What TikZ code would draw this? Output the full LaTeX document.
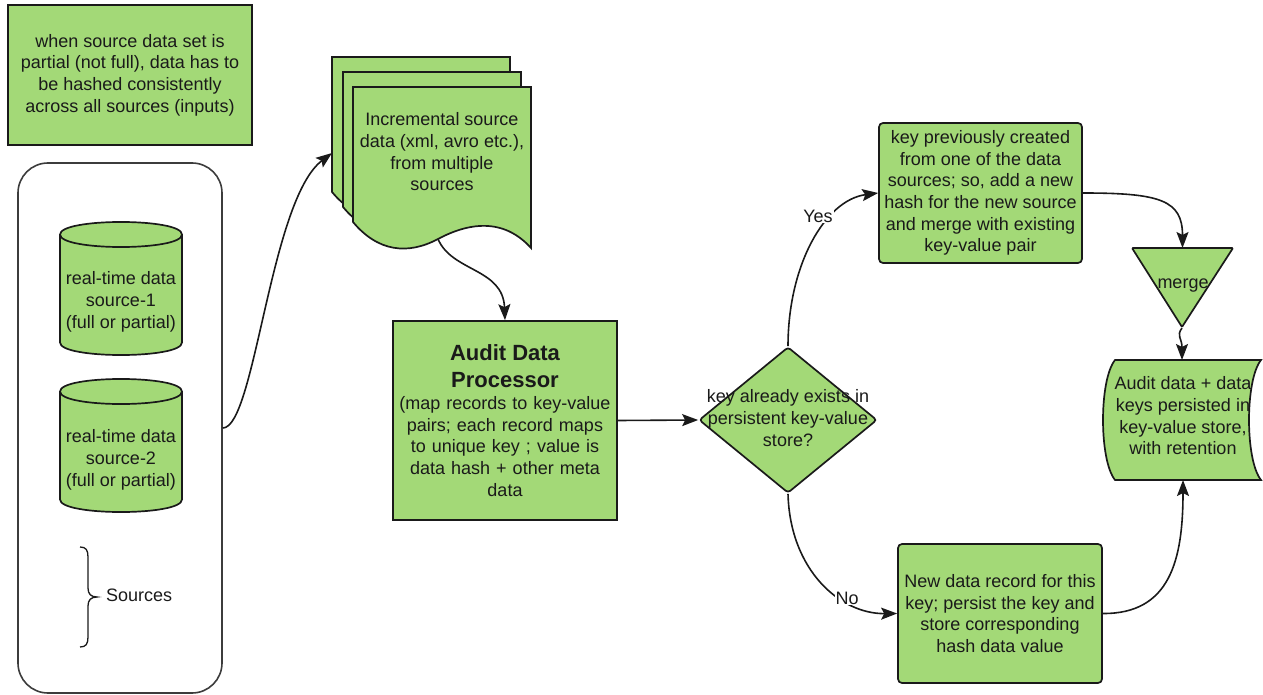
\documentclass[tikz,border=0pt]{standalone}
\usepackage{fontspec}
\setmainfont{Liberation Sans}
\usetikzlibrary{shapes.geometric,arrows.meta}
\definecolor{lgreen}{HTML}{A3D977}
\definecolor{ink}{HTML}{1A1A1A}
\begin{document}
\begin{tikzpicture}[x=1pt,y=-1pt, font=\fontsize{18}{21.7}\selectfont,
  shp/.style={draw=ink, line width=1.7pt, fill=lgreen},
  box/.style={shp, text=ink, align=center, inner sep=0pt},
  txt/.style={text=ink, align=center, inner sep=0pt},
  conn/.style={draw=ink, line width=1.6pt, -{Stealth[length=16pt,width=12pt,inset=3pt]}},
  lbl/.style={fill=white, inner sep=1pt, text=ink}]

\useasboundingbox (0,0) rectangle (1263,695);

% note
\node[box, minimum width=244pt, minimum height=140pt] (note) at (130,75)
  {when source data set is\\partial (not full), data has to\\be hashed consistently\\across all sources (inputs)};

% container
\node[draw=ink!85, line width=1.6pt, rounded corners=30pt, minimum width=204pt, minimum height=530pt] (cont) at (120,428) {};

% cylinder 1
\path[shp] (60,234.5) -- (60,342.5) .. controls (60,359.2) and (182,359.2) .. (182,342.5)
  -- (182,234.5) .. controls (182,217.8) and (60,217.8) .. (60,234.5) -- cycle;
\draw[shp] (60,234.5) .. controls (60,251.2) and (182,251.2) .. (182,234.5);
\node[txt] (src1) at (121,302) {real-time data\\source-1\\(full or partial)};

% cylinder 2
\path[shp] (60,391.5) -- (60,499.5) .. controls (60,516.2) and (182,516.2) .. (182,499.5)
  -- (182,391.5) .. controls (182,374.8) and (60,374.8) .. (60,391.5) -- cycle;
\draw[shp] (60,391.5) .. controls (60,408.2) and (182,408.2) .. (182,391.5);
\node[txt] (src2) at (121,460) {real-time data\\source-2\\(full or partial)};

% brace
\draw[ink, line width=1.3pt] (80,547) .. controls (86,547) and (88,550) .. (88,557) -- (88,588)
  .. controls (88,594) and (91,597) .. (97,597) .. controls (91,597) and (88,600) .. (88,606)
  -- (88,637) .. controls (88,644) and (86,647) .. (80,647);
\node[txt, anchor=west] (srcs) at (106,595) {Sources};

% multi document
\foreach \px/\py in {332/57,343/72,353/87}{
  \draw[shp] (\px,\py) -- (\px+178,\py) -- (\px+178,\py+161)
    .. controls (\px+150,\py+130) and (\px+115,\py+136) .. (\px+85,\py+152)
    .. controls (\px+55,\py+168) and (\px+25,\py+165) .. (\px,\py+135) -- cycle;
}
\node[txt] (docs) at (442,152) {Incremental source\\data (xml, avro etc.),\\from multiple\\sources};
\coordinate (docin) at (332,153);
\coordinate (docout) at (438,239);

% processor
\node[box, minimum width=224pt, minimum height=199pt, text width=220pt] (proc) at (505,420.5)
  {\fontsize{22}{27}\selectfont\bfseries Audit Data\\Processor\par
   \fontsize{18}{21.7}\selectfont\mdseries (map records to key-value\\pairs; each record maps\\to unique key ; value is\\data hash + other meta\\data};

% decision
\node[shp, diamond, minimum width=178pt, minimum height=146pt, inner sep=0pt, rounded corners=3pt] (dec) at (788,420) {};
\node[txt] (dectxt) at (788,418) {key already exists in\\persistent key-value\\store?};

% yes box
\node[box, rounded corners=4pt, minimum width=203pt, minimum height=140pt] (kbox) at (980.5,193)
  {key previously created\\from one of the data\\sources; so, add a new\\hash for the new source\\and merge with existing\\key-value pair};

% no box
\node[box, rounded corners=4pt, minimum width=204pt, minimum height=139pt] (nbox) at (1000,613.5)
  {New data record for this\\key; persist the key and\\store corresponding\\hash data value};

% merge
\draw[shp, rounded corners=1pt] (1132,248) -- (1233,248) -- (1182,327) -- cycle;
\coordinate (mtop) at (1182.5,248);
\coordinate (mbot) at (1182,328);
\node[txt] (merge) at (1183,286) {merge};

% stored data
\draw[shp] (1115,360) -- (1261,360) .. controls (1245,380) and (1245,460) .. (1261,480)
  -- (1115,480) .. controls (1099,460) and (1099,380) .. (1115,360) -- cycle;
\node[txt] (store) at (1183,416) {Audit data + data\\keys persisted in\\key-value store,\\with retention};
\coordinate (stin) at (1182,360);
\coordinate (stbot) at (1183,480);

% connectors
\draw[conn] (cont.east) .. controls (255,428) and (270,200) .. (docin);
\draw[conn] (docout) .. controls (452,272) and (503,268) .. (proc.north);
\draw[conn] (proc.east) -- (dec.west);
\draw[conn] (dec.north) .. controls (788,265) and (825,200) .. (kbox.west);
\draw[conn] (dec.south) .. controls (790,570) and (840,614) .. (nbox.west);
\draw[conn] (kbox.east) .. controls (1160,193) and (1182.5,200) .. (mtop);
\draw[conn] (mbot) .. controls (1176,336) and (1182,338) .. (stin);
\draw[conn] (nbox.east) .. controls (1170,614) and (1183,560) .. (stbot);
\node[lbl] (yes) at (818,216) {Yes};
\node[lbl] (no) at (847,598) {No};
\end{tikzpicture}
\end{document}
